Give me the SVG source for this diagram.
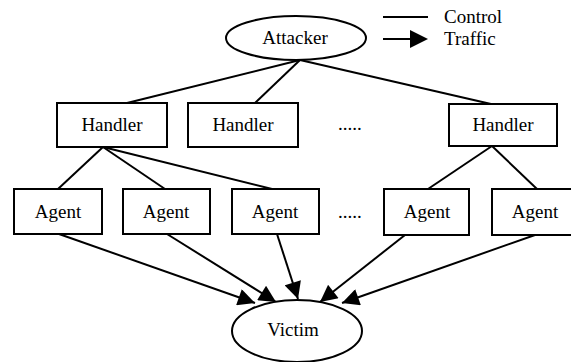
<svg xmlns="http://www.w3.org/2000/svg" width="571" height="362" viewBox="0 0 571 362">
<defs>
<style>
.n{fill:#fff;stroke:#000;stroke-width:2}
text{font-family:'Liberation Serif','Times New Roman','DejaVu Serif',serif;font-size:19px;fill:#000}
.t{text-anchor:middle}
.c{stroke:#000;stroke-width:2;fill:none}
</style>
<marker id="big" viewBox="0 0 10 10" refX="10" refY="5" markerWidth="18" markerHeight="17" markerUnits="userSpaceOnUse" orient="auto">
<path d="M0,0 L10,5 L0,10 Z" fill="#000"/>
</marker>
</defs>
<rect width="571" height="362" fill="#fff"/>
<g id="connectors">
<line class="c" x1="300" y1="60" x2="127" y2="103"/>
<line class="c" x1="300" y1="60" x2="255" y2="103"/>
<line class="c" x1="300" y1="60" x2="491" y2="104"/>
<line class="c" x1="103" y1="147" x2="58" y2="189"/>
<line class="c" x1="103" y1="147" x2="165" y2="189"/>
<line class="c" x1="103" y1="147" x2="272" y2="189"/>
<line class="c" x1="492" y1="146" x2="428" y2="189"/>
<line class="c" x1="492" y1="146" x2="537" y2="189"/>
<line class="c" x1="59" y1="234" x2="255" y2="303" marker-end="url(#big)"/>
<line class="c" x1="167" y1="234" x2="276" y2="302" marker-end="url(#big)"/>
<line class="c" x1="277" y1="234" x2="298" y2="299" marker-end="url(#big)"/>
<line class="c" x1="405" y1="235" x2="320" y2="302" marker-end="url(#big)"/>
<line class="c" x1="535" y1="235" x2="342" y2="303" marker-end="url(#big)"/>
</g>
<g id="legend">
<line class="c" x1="383" y1="17" x2="428" y2="17"/>
<line class="c" x1="383" y1="39" x2="412" y2="39"/>
<path d="M410,30 L428,39 L410,48 Z" fill="#000"/>
<text x="444" y="23" font-family="Liberation Serif, DejaVu Serif, serif">Control</text>
<text x="444" y="45" font-family="Liberation Serif, DejaVu Serif, serif">Traffic</text>
</g>
<g id="attacker">
<ellipse class="n" cx="296" cy="38" rx="70" ry="22"/>
<text class="t" x="295" y="44">Attacker</text>
</g>
<g id="handler1">
<rect class="n" x="57" y="103" width="110" height="44"/>
<text class="t" x="112" y="131">Handler</text>
</g>
<g id="handler2">
<rect class="n" x="188" y="103" width="110" height="44"/>
<text class="t" x="243" y="131">Handler</text>
</g>
<text x="338" y="130">.....</text>
<g id="handler3">
<rect class="n" x="449" y="104" width="108" height="42"/>
<text class="t" x="503" y="131">Handler</text>
</g>
<g id="agent1">
<rect class="n" x="14" y="189" width="88" height="45"/>
<text class="t" x="58" y="218">Agent</text>
</g>
<g id="agent2">
<rect class="n" x="123" y="189" width="87" height="45"/>
<text class="t" x="166" y="218">Agent</text>
</g>
<g id="agent3">
<rect class="n" x="232" y="189" width="87" height="45"/>
<text class="t" x="275" y="218">Agent</text>
</g>
<text x="338" y="218">.....</text>
<g id="agent4">
<rect class="n" x="384" y="189" width="85" height="46"/>
<text class="t" x="427" y="218">Agent</text>
</g>
<g id="agent5">
<rect class="n" x="492" y="189" width="88" height="46"/>
<text class="t" x="535" y="218">Agent</text>
</g>
<g id="victim">
<ellipse class="n" cx="297" cy="331" rx="65" ry="31"/>
<text class="t" x="293" y="336">Victim</text>
</g>
</svg>
